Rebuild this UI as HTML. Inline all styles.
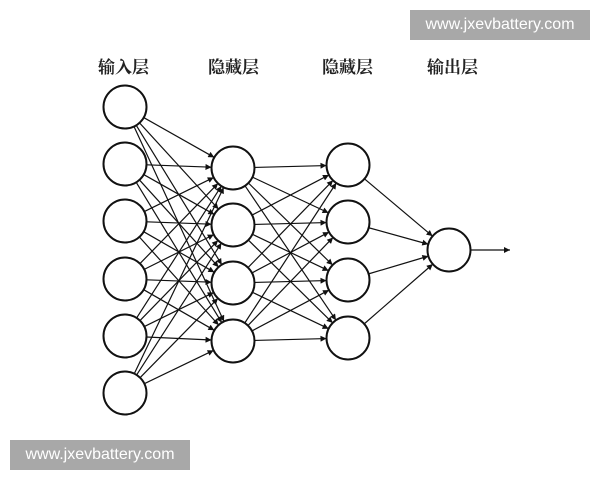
<!DOCTYPE html>
<html><head><meta charset="utf-8"><style>
html,body{margin:0;padding:0;background:#fff;}
body{width:600px;height:480px;position:relative;overflow:hidden;}
.wm{position:absolute;width:180px;height:30px;background:#a8a8a8;color:#fff;font:16px "Liberation Sans",sans-serif;line-height:30px;text-align:center;}
</style></head><body>
<svg id="s" width="600" height="480" style="position:absolute;left:0;top:0">
<defs><marker id="a" viewBox="0 0 10 10" refX="10" refY="5" markerWidth="8" markerHeight="6" markerUnits="userSpaceOnUse" orient="auto"><path d="M0,0L10,5L0,10z" fill="#111"/></marker></defs>
<g font-family="'Liberation Serif','Noto Serif CJK SC',serif" font-size="17" font-weight="bold" fill="#222">
<text x="98" y="73">输入层</text>
<text x="208" y="73">隐藏层</text>
<text x="322" y="73">隐藏层</text>
<text x="427" y="73">输出层</text>
</g>
<g id="L" stroke="#111" stroke-width="1.2" fill="none"></g>
<g id="C" stroke="#111" stroke-width="2" fill="#fff"></g>
</svg>
<div class="wm" style="left:410px;top:10px">www.jxevbattery.com</div>
<div class="wm" style="left:10px;top:440px">www.jxevbattery.com</div>
<script>
var ns="http://www.w3.org/2000/svg",r=21.5;
var A=[107,164,221,279,336,393].map(function(y){return[125,y]});
var B=[168,225,283,341].map(function(y){return[233,y]});
var H=[165,222,280,338].map(function(y){return[348,y]});
var O=[[449,250]];
var L=document.getElementById('L'),C=document.getElementById('C');
function line(p,q){var dx=q[0]-p[0],dy=q[1]-p[1],d=Math.sqrt(dx*dx+dy*dy);
var e=document.createElementNS(ns,'line');
e.setAttribute('x1',p[0]+dx/d*r);e.setAttribute('y1',p[1]+dy/d*r);
e.setAttribute('x2',q[0]-dx/d*r);e.setAttribute('y2',q[1]-dy/d*r);
e.setAttribute('marker-end','url(#a)');L.appendChild(e);}
function full(X,Y){X.forEach(function(p){Y.forEach(function(q){line(p,q)})})}
full(A,B);full(B,H);full(H,O);
var e=document.createElementNS(ns,'line');e.setAttribute('x1',470.5);e.setAttribute('y1',250);e.setAttribute('x2',510);e.setAttribute('y2',250);e.setAttribute('marker-end','url(#a)');L.appendChild(e);
[A,B,H,O].forEach(function(g){g.forEach(function(p){var c=document.createElementNS(ns,'circle');c.setAttribute('cx',p[0]);c.setAttribute('cy',p[1]);c.setAttribute('r',r);C.appendChild(c);})});
</script>
</body></html>
